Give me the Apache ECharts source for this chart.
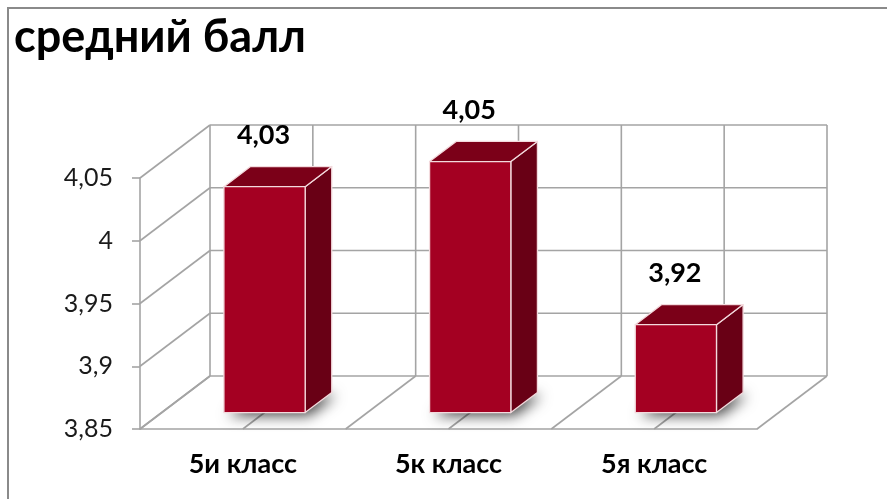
<!DOCTYPE html>
<html>
<head>
<meta charset="utf-8">
<script src="https://cdn.jsdelivr.net/npm/echarts@6/dist/echarts.min.js"></script>
<style>
  html, body { margin: 0; padding: 0; background: #fff; }
  #chart { width: 887px; height: 499px; }
</style>
</head>
<body>
<div id="chart"></div>
<script>
// ---- data ----
const chartTitle = 'средний балл';
const categories = ['5и класс', '5к класс', '5я класс'];
const scores = [4.03, 4.05, 3.92];
const yMin = 3.85;
const yMax = 4.05;
const yStep = 0.05;

// ---- look ----
// depth vector of the plot box (screen px) and the slab the columns occupy in it
const DEPTH = [70, -53];
const COL_FRONT = 0.31;
const COL_BACK = 0.69;
const COL_WIDTH = 0.395;
const GRID_COLOR = '#a4a4a4';
const FONT = 'Lato, "Noto Sans", sans-serif';
const FACE = '#a40022';
const TOP = '#7b0018';
const SIDE = '#690015';
const EDGE = '#f3dadd';

const fmt = v => String(+(+v).toFixed(2)).replace('.', ',');

function gridLine(x1, y1, x2, y2) {
  return {
    type: 'line', silent: true,
    shape: { x1, y1, x2, y2 },
    style: { stroke: GRID_COLOR, lineWidth: 1.6 }
  };
}

// side wall, back wall and floor of the box
function renderWalls(params, api) {
  const cs = params.coordSys;
  const L = cs.x, R = cs.x + cs.width, T = cs.y, B = cs.y + cs.height;
  const [dx, dy] = DEPTH;
  const children = [];
  const steps = Math.round((yMax - yMin) / yStep);
  for (let s = 0; s <= steps; s++) {
    const y = api.coord([0, yMin + s * yStep])[1];
    children.push(gridLine(L, y, L + dx, y + dy));
    children.push(gridLine(L + dx, y + dy, R + dx, y + dy));
  }
  const n = categories.length * 2;
  for (let k = 0; k <= n; k++) {
    const x = L + cs.width * k / n;
    children.push(gridLine(x + dx, T + dy, x + dx, B + dy));
    children.push(gridLine(x, B, x + dx, B + dy));
  }
  return { type: 'group', children };
}

// one prism column with its floor shadow and value label
function renderColumn(params, api) {
  const i = api.value(0);
  const v = api.value(1);
  const top = api.coord([i, v]);
  const base = api.coord([i, yMin]);
  const band = api.size([1, 0])[0];
  const w = band * COL_WIDTH;
  const [Dx, Dy] = DEPTH;
  const fx = Dx * COL_FRONT, fy = Dy * COL_FRONT;
  const dx = Dx * (COL_BACK - COL_FRONT), dy = Dy * (COL_BACK - COL_FRONT);
  const x0 = top[0] - w / 2 + fx;
  const x1 = x0 + w;
  const yT = top[1] + fy;
  const yB = base[1] + fy;
  const edge = { stroke: EDGE, lineWidth: 1.3, lineJoin: 'round' };
  return {
    type: 'group',
    children: [
      {
        type: 'polygon',
        shape: { points: [[x0, yB], [x1, yB], [x1 + dx, yB + dy], [x0 + dx, yB + dy]] },
        style: {
          fill: '#666',
          shadowBlur: 14,
          shadowColor: 'rgba(0,0,0,0.75)',
          shadowOffsetX: 4,
          shadowOffsetY: 3
        }
      },
      {
        type: 'polygon',
        shape: { points: [[x1, yT], [x1 + dx, yT + dy], [x1 + dx, yB + dy], [x1, yB]] },
        style: Object.assign({ fill: SIDE }, edge)
      },
      {
        type: 'polygon',
        shape: { points: [[x0, yT], [x1, yT], [x1 + dx, yT + dy], [x0 + dx, yT + dy]] },
        style: Object.assign({ fill: TOP }, edge)
      },
      {
        type: 'rect',
        shape: { x: x0, y: yT, width: w, height: yB - yT },
        style: Object.assign({ fill: FACE }, edge)
      },
      {
        type: 'text',
        x: (x0 + x1) / 2 - 1,
        y: yT - 51,
        style: {
          text: fmt(v),
          fill: '#000',
          fontFamily: FONT,
          fontWeight: 'bold',
          fontSize: 27,
          align: 'center',
          verticalAlign: 'middle'
        }
      }
    ]
  };
}

const chart = echarts.init(document.getElementById('chart'), null, { renderer: 'canvas' });

chart.setOption({
  backgroundColor: '#fff',
  animation: false,
  title: {
    text: chartTitle,
    left: 14,
    top: 15,
    padding: 0,
    textStyle: { fontFamily: FONT, fontSize: 45, fontWeight: 'bold', color: '#000' }
  },
  graphic: [{
    type: 'rect',
    silent: true,
    z: -10,
    shape: { x: 8, y: 8, width: 900, height: 520 },
    style: { fill: null, stroke: '#8a8a8a', lineWidth: 2 }
  }],
  grid: { left: 140, top: 178, width: 617, height: 251, containLabel: false, outerBoundsMode: 'none' },
  xAxis: {
    type: 'category',
    data: categories,
    axisLine: { lineStyle: { color: GRID_COLOR, width: 1.6 } },
    axisTick: { length: 8, lineStyle: { color: GRID_COLOR, width: 1.6 } },
    axisLabel: { margin: 22, fontFamily: FONT, fontSize: 27, fontWeight: 'bold', color: '#000' },
    splitLine: { show: false }
  },
  yAxis: {
    type: 'value',
    min: yMin,
    max: yMax,
    interval: yStep,
    axisLine: { show: true, lineStyle: { color: GRID_COLOR, width: 1.6 } },
    axisTick: { show: true, length: 8, lineStyle: { color: GRID_COLOR, width: 1.6 } },
    axisLabel: { margin: 27, fontFamily: FONT, fontSize: 25, color: '#1a1a1a', formatter: fmt },
    splitLine: { show: false }
  },
  series: [
    {
      type: 'custom',
      name: 'walls',
      coordinateSystem: 'cartesian2d',
      clip: false,
      silent: true,
      z: 1,
      data: [[0, yMin]],
      renderItem: renderWalls
    },
    {
      type: 'custom',
      name: 'средний балл',
      coordinateSystem: 'cartesian2d',
      clip: false,
      z: 3,
      encode: { x: 0, y: 1 },
      data: scores.map((s, i) => [i, s]),
      renderItem: renderColumn
    }
  ]
});
</script>
</body>
</html>
